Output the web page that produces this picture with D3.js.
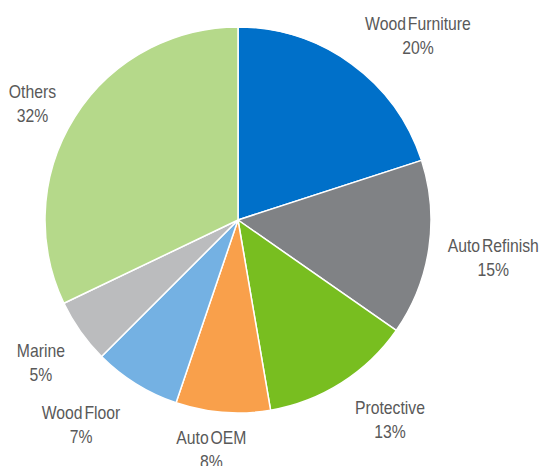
<!DOCTYPE html>
<html>

<head>
  <meta charset="utf8">
  <script src="https://d3js.org/d3.v7.min.js"></script>
  <style>
    body { margin: 0; background: #fff; }
    .label text {
      font-family: "Liberation Sans Narrow", "Arial Narrow", "Liberation Sans", sans-serif;
      font-size: 19px;
      fill: #595959;
      word-spacing: -3px;
    }
  </style>
</head>

<body>
  <svg id="chart" width="542" height="466"></svg>

  <script>
    // segments in clockwise order from 12 o'clock
    var segments = ['Wood Furniture', 'Auto Refinish', 'Protective', 'Auto OEM', 'Wood Floor', 'Marine', 'Others'];
    var shares = [20.0, 14.7, 12.6, 7.9, 7.3, 5.4, 32.1];
    var colors = ['#0070C9', '#808285', '#78BE20', '#F9A04B', '#74B1E3', '#BBBCBE', '#B5D98A'];
    // label nudges from the outer label arc (px)
    var nudges = [[33, 12], [8, -5], [18, -17], [-7, -25], [-25, -13], [7, -7], [6, 11]];

    var data = segments.map((name, i) => ({ name, value: shares[i], i }));

    var chart = d3.select('#chart');
    var cx = 238, cy = 220, radius = 193;

    var pie = d3.pie().sort(null).value((d) => d.value);
    var arc = d3.arc().innerRadius(0).outerRadius(radius);
    var labelArc = d3.arc().innerRadius(250).outerRadius(250);
    var color = d3.scaleOrdinal().domain(segments).range(colors);

    var g = chart.append('g')
      .attr('transform', 'translate(' + cx + ',' + cy + ')');

    var arcs = pie(data);

    g.selectAll('path.slice')
      .data(arcs)
      .enter()
      .append('path')
      .attr('class', 'slice')
      .attr('d', arc)
      .attr('fill', (d) => color(d.data.name))
      .attr('stroke', '#fff')
      .attr('stroke-width', 1.5)
      .attr('stroke-linejoin', 'round');

    // the original uses a condensed face, so squeeze the labels horizontally
    var labels = g.selectAll('g.label')
      .data(arcs)
      .enter()
      .append('g')
      .attr('class', 'label')
      .attr('transform', (d) => {
        var c = labelArc.centroid(d);
        var n = nudges[d.data.i];
        return 'translate(' + (c[0] + n[0]) + ',' + (c[1] + n[1]) + ') scale(0.83,1)';
      });

    labels.append('text')
      .attr('text-anchor', 'middle')
      .text((d) => d.data.name);

    labels.append('text')
      .attr('text-anchor', 'middle')
      .attr('y', 24)
      .text((d) => Math.round(d.data.value) + '%');
  </script>
</body>

</html>
